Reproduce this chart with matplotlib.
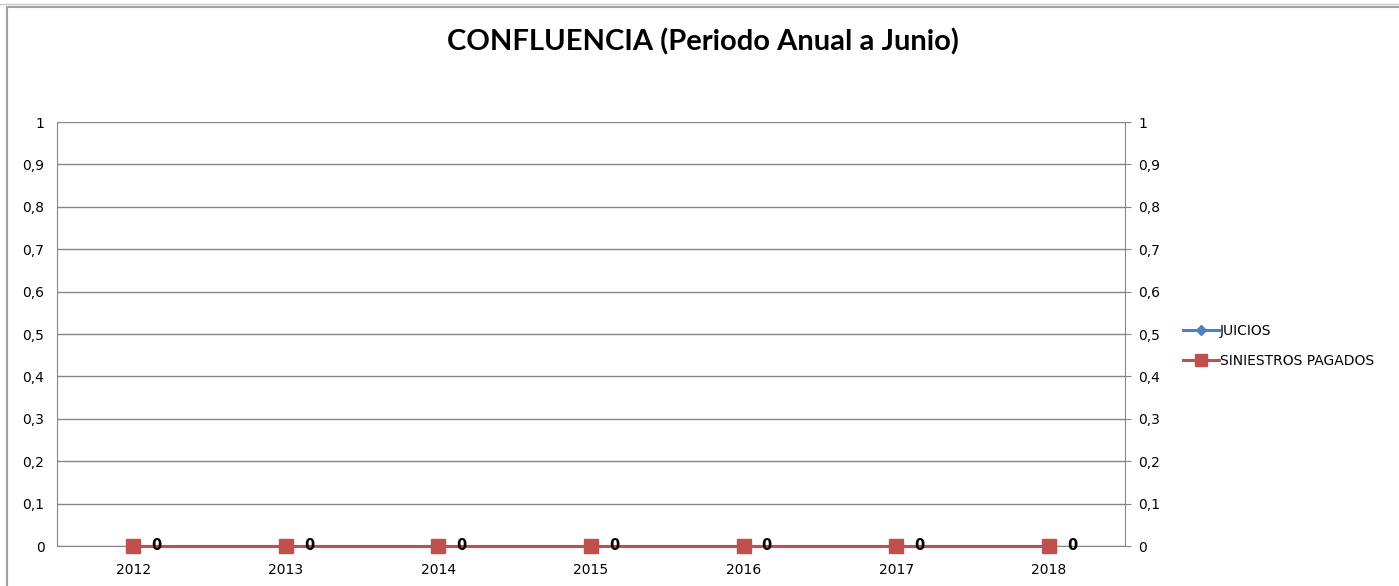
import matplotlib
matplotlib.use("Agg")
import matplotlib.pyplot as plt
from matplotlib.lines import Line2D
from matplotlib.patches import Rectangle

years = ["2012", "2013", "2014", "2015", "2016", "2017", "2018"]
juicios = [0, 0, 0, 0, 0, 0, 0]
siniestros = [0, 0, 0, 0, 0, 0, 0]
yticks = [0, 0.1, 0.2, 0.3, 0.4, 0.5, 0.6, 0.7, 0.8, 0.9, 1]
ytick_labels = ["0", "0,1", "0,2", "0,3", "0,4", "0,5", "0,6", "0,7", "0,8", "0,9", "1"]

W, H = 1399, 586
fig = plt.figure(figsize=(W / 100, H / 100), dpi=100)
fig.patch.set_facecolor("white")

# outer frame
fig.patches.append(Rectangle((7 / W, -0.01), 1.02, (H - 7) / H + 0.01,
                             transform=fig.transFigure, fill=False,
                             edgecolor="#a0a0a0", linewidth=1.5))
fig.lines.append(Line2D([0, 1], [1 - 4 / H, 1 - 4 / H], transform=fig.transFigure,
                        color="#c8c8c8", linewidth=1))

ax = fig.add_axes([57 / W, 1 - 546 / H, (1125 - 57) / W, (546 - 122) / H])
x = list(range(len(years)))
grid_c = "#868686"
blue = "#4F81BD"
red = "#C0504D"

ax.plot(x, juicios, color=blue, linewidth=2.2, marker="D", markersize=6,
        zorder=5, clip_on=False)
ax.plot(x, siniestros, color=red, linewidth=2.2, marker="s", markersize=10,
        zorder=6, clip_on=False)
for xi, v in zip(x, siniestros):
    ax.annotate(str(v), (xi, v), xytext=(13, 0), textcoords="offset points",
                ha="left", va="center", fontsize=10.5, fontweight="bold",
                color="black", family="DejaVu Sans", zorder=7,
                annotation_clip=False)

ax.set_xlim(-0.5, len(years) - 0.5)
ax.set_ylim(0, 1)
ax.set_yticks(yticks)
ax.set_yticklabels(ytick_labels)
ax.set_xticks(x)
ax.set_xticklabels(years)
ax.yaxis.grid(True, color=grid_c, linewidth=1)
ax.set_axisbelow(True)
for s in ["left", "right", "bottom"]:
    ax.spines[s].set_color(grid_c)
ax.spines["top"].set_visible(False)
ax.tick_params(axis="both", length=0, labelsize=10, colors="black")
ax.tick_params(axis="y", pad=9)
ax.tick_params(axis="x", pad=12)

ax2 = ax.twinx()
ax2.set_ylim(0, 1)
ax2.set_yticks(yticks)
ax2.set_yticklabels(ytick_labels)
ax2.tick_params(axis="y", length=4.5, color=grid_c, labelsize=10, pad=5)
for s in ax2.spines.values():
    s.set_visible(False)

fig.text(703 / W, 1 - 42 / H, "CONFLUENCIA (Periodo Anual a Junio)", ha="center",
         va="center", fontsize=21, fontweight="bold", family="Lato")

handles = [Line2D([], [], color=blue, linewidth=2.2, marker="D", markersize=5),
           Line2D([], [], color=red, linewidth=2.2, marker="s", markersize=8)]
fig.legend(handles, ["JUICIOS", "SINIESTROS PAGADOS"], loc="center left",
           bbox_to_anchor=(1170 / W, 1 - 346 / H), frameon=False, fontsize=10,
           handlelength=2.6, handletextpad=0.1, labelspacing=1.2)

fig.savefig("out.png", dpi=100)
